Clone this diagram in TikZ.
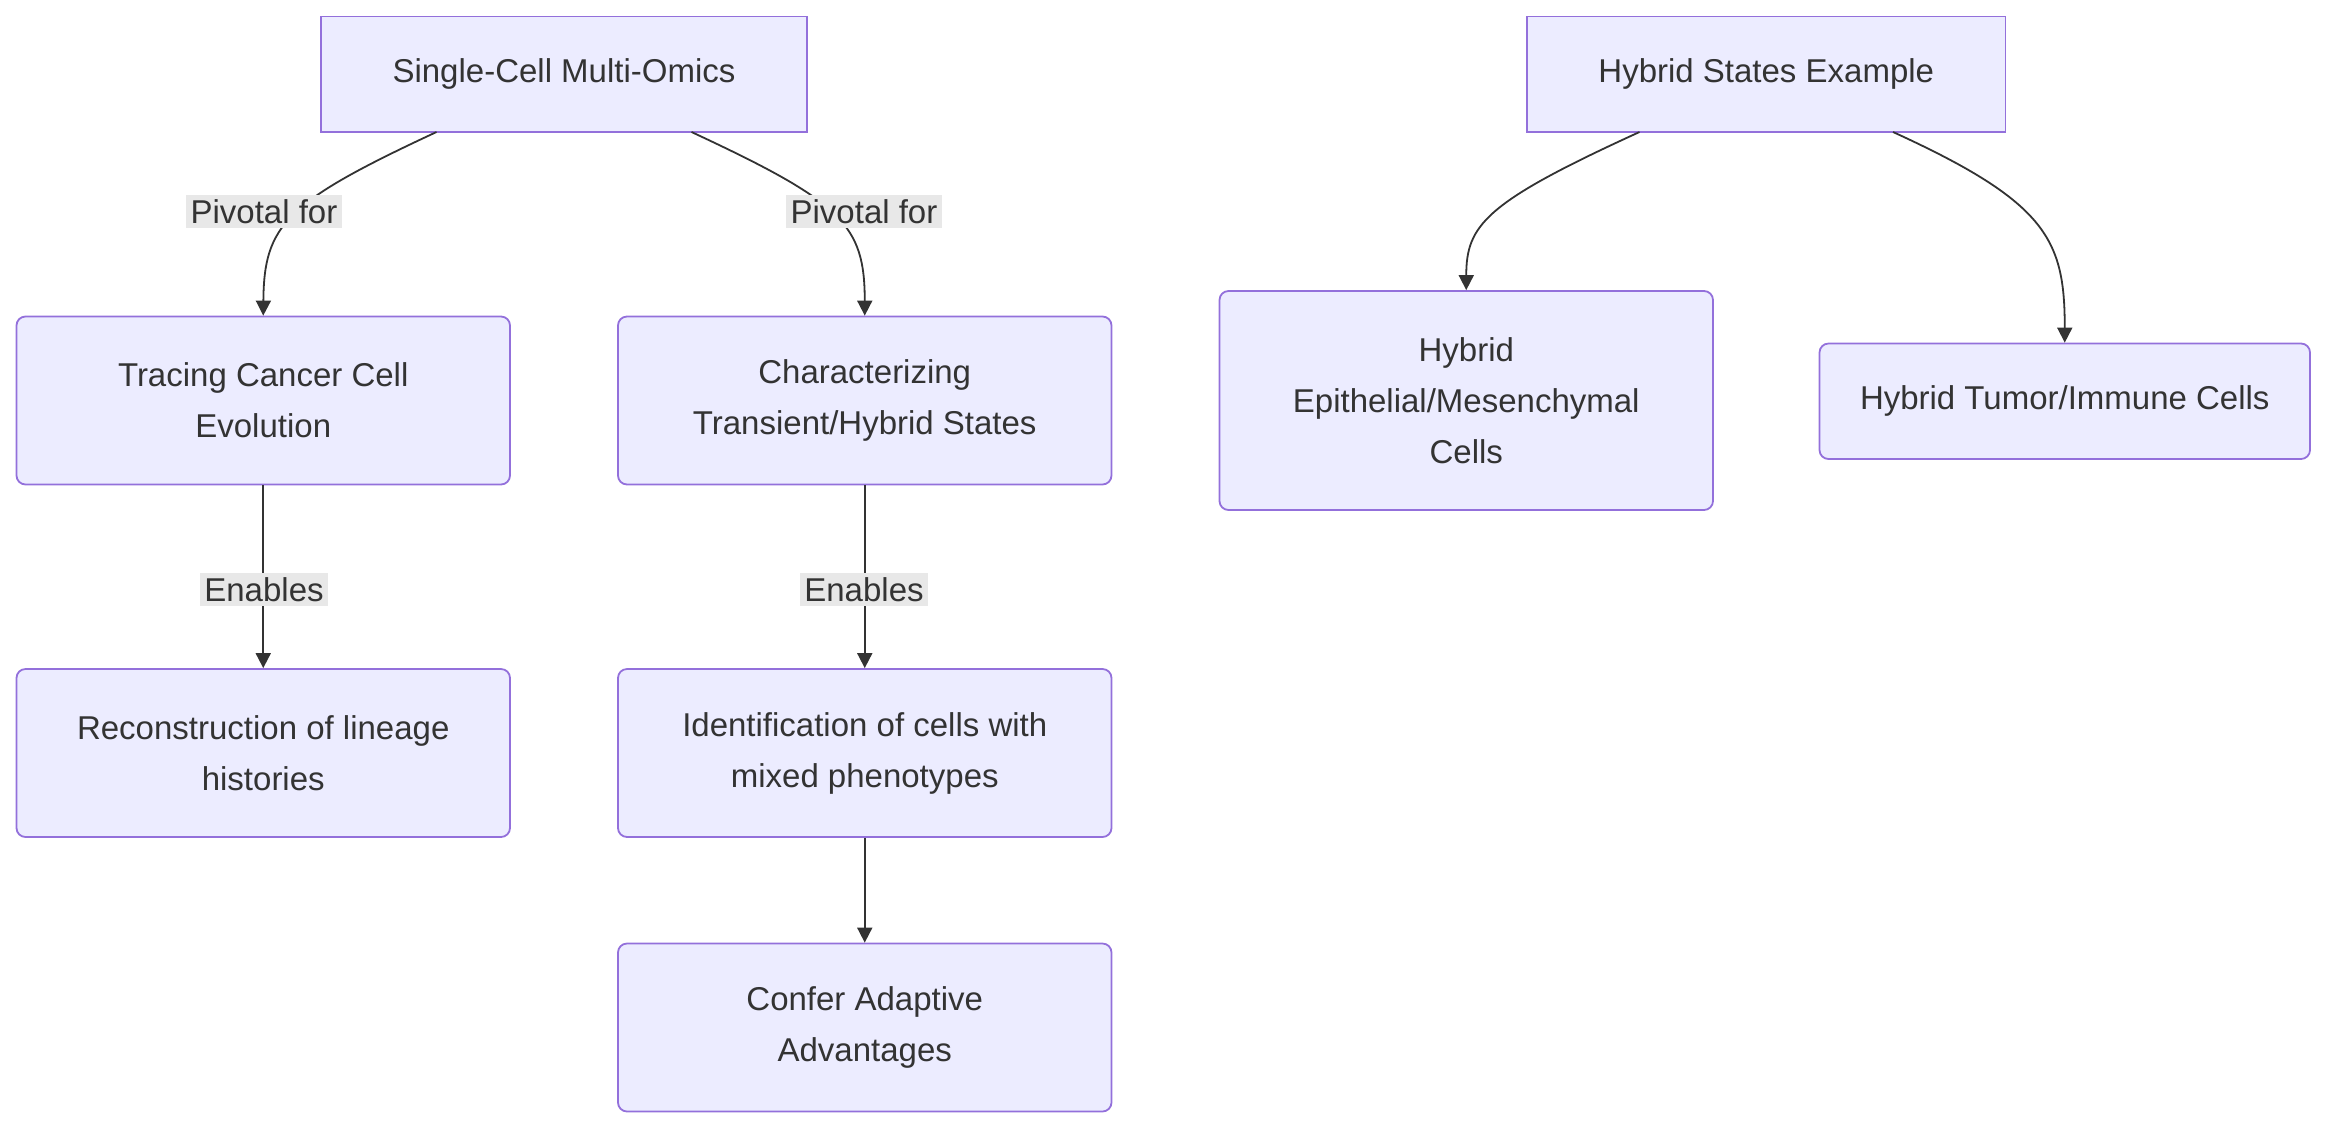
\documentclass[tikz,border=0pt]{standalone}
\usepackage{fontspec}
\setmainfont{Liberation Sans}
\usetikzlibrary{arrows.meta,positioning}
\definecolor{boxfill}{HTML}{ECECFF}
\definecolor{boxline}{HTML}{9370DB}
\definecolor{ink}{HTML}{333333}
\definecolor{lblbg}{HTML}{E8E8E8}
\begin{document}
\begin{tikzpicture}[x=0.5pt,y=-0.5pt,
  box/.style={draw=boxline,fill=boxfill,line width=0.6pt,align=center,
    font=\fontsize{11}{17}\selectfont,text=ink,minimum height=56pt,
    minimum width=164.5pt,inner sep=0pt},
  topbox/.style={box,minimum height=38.5pt},
  rbox/.style={box,rounded corners=3pt},
  lbl/.style={fill=lblbg,font=\fontsize{11}{13}\selectfont,text=ink,inner sep=1.5pt},
  link/.style={draw=ink,line width=0.6pt,-{Triangle[length=5pt,width=5pt]}}]
\useasboundingbox (0,0) rectangle (1568,762);
% boxes
\node[topbox,minimum width=162pt] (omics) at (376,49.5) {Single-Cell Multi-Omics};
\node[topbox,minimum width=159.5pt] (hybex) at (1177.5,49.5) {Hybrid States Example};
\node[rbox] (tracing) at (175.5,267) {Tracing Cancer Cell\\Evolution};
\node[rbox] (charact) at (576.5,267) {Characterizing\\Transient/Hybrid States};
\node[rbox,minimum height=73pt] (epimes) at (977.5,267) {Hybrid\\Epithelial/Mesenchymal\\Cells};
\node[rbox,minimum height=38.5pt,minimum width=163.5pt] (tumimm) at (1376.5,267.5) {Hybrid Tumor/Immune Cells};
\node[rbox] (lineage) at (175.5,502) {Reconstruction of lineage\\histories};
\node[rbox] (mixed) at (576.5,502) {Identification of cells with\\mixed phenotypes};
\node[rbox] (confer) at (576.5,685) {Confer Adaptive\\Advantages};
% start points on the top boxes
\coordinate (o1) at (291,88);
\coordinate (o2) at (461,88);
\coordinate (h1) at (1093,88);
\coordinate (h2) at (1262,88);
% edges
\draw[link] (o1) .. controls (190,135) and (176,150) .. (tracing.north);
\draw[link] (o2) .. controls (562,135) and (576.5,150) .. (charact.north);
\draw[link] (h1) .. controls (990,135) and (977.5,150) .. (epimes.north);
\draw[link] (h2) .. controls (1365,135) and (1376.5,160) .. (tumimm.north);
\draw[link] (tracing) -- (lineage);
\draw[link] (charact) -- (mixed);
\draw[link] (mixed) -- (confer);
% labels
\node[lbl] (p1) at (176,141) {Pivotal for};
\node[lbl] (p2) at (576,141) {Pivotal for};
\node[lbl] (e1) at (176,393) {Enables};
\node[lbl] (e2) at (576,393) {Enables};
\end{tikzpicture}
\end{document}
